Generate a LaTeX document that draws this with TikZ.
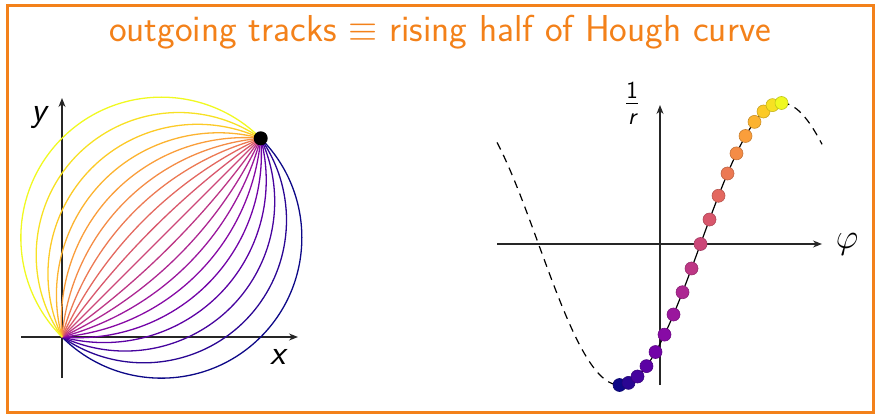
\RequirePackage{fix-cm}
\documentclass[tikz,border=0pt]{standalone}
\usepackage{amsmath}
\usepackage{fontspec}
\usetikzlibrary{arrows.meta}

\definecolor{frameorange}{RGB}{243,129,26}

\tikzset{
  axis/.style={line width=1.2pt, black!85, -{Stealth[length=9pt,width=7pt]}},
  track/.style={line width=1.3pt, trk},
  hough/.style={line width=1.2pt, black},
  guide/.style={dash pattern=on 8pt off 6pt},
  houghdot/.style={circle, fill=trk, draw=trk!80!black, line width=0.6pt, inner sep=0pt, minimum size=13pt},
  lbl/.style={font=\fontsize{35}{42}\selectfont\sffamily\itshape},
}

\begin{document}
\begin{tikzpicture}[x=1pt,y=1pt]
  \def\plasma{13/8/135, 42/6/147, 70/4/158, 92/1/164, 114/3/167, 135/10/165, 154/23/157, 173/39/146, 189/55/133, 204/71/120, 216/87/108, 227/104/95, 236/121/83, 244/140/70, 250/158/59, 252/179/48, 252/202/39, 247/225/35, 240/249/33}

  \useasboundingbox (0,0) rectangle (882,415);
  \draw[frameorange, line width=3pt] (7.5,2.5) rectangle (873.5,409.5);
  \node[anchor=base, text=frameorange, font=\fontsize{37.5}{45}\selectfont\sffamily] (title) at (440,373)
    {outgoing tracks $\equiv$ rising half of Hough curve};

  \begin{scope}[shift={(62,78)}]
    \def\chord{281}
    \coordinate (O) at (0,0);
    \coordinate (P) at (45:\chord);
    \draw[axis] (-41,0) -- (236,0);
    \draw[axis] (0,-41) -- (0,239);
    \foreach \r/\g/\b [count=\i from 0] in \plasma {
      \definecolor{trk}{RGB}{\r,\g,\b}
      \pgfmathsetmacro\turn{180-20*\i}
      \ifnum\i=9
        \draw[track] (O) -- (P);
      \else
        \pgfmathsetmacro\rad{\chord/(2*sin(abs(\turn)/2))}
        \pgfmathsetmacro\start{10*\i-45-90*sign(\turn)}
        \draw[track] (O) arc[start angle=\start, delta angle=\turn, radius=\rad];
      \fi
    }
    \fill (P) circle[radius=7];
    \node[lbl] (xlab) at (216,-20) {x};
    \node[lbl] (ylab) at (-23,219) {y};
  \end{scope}

  \begin{scope}[shift={(660,171)}]
    \def\amp{141}
    \def\half{162}
    \def\phase{40.5}
    \draw[axis] (-163,0) -- (162,0);
    \draw[axis] (0,-141) -- (0,139);
    \draw[hough, guide] plot[domain=-163:-40.5, samples=60] (\x,{\amp*sin((\x-\phase)/\half*180)});
    \draw[hough] plot[domain=-40.5:121.5, samples=80] (\x,{\amp*sin((\x-\phase)/\half*180)});
    \draw[hough, guide] plot[domain=121.5:162, samples=30] (\x,{\amp*sin((\x-\phase)/\half*180)});
    \foreach \r/\g/\b [count=\i from 0] in \plasma {
      \definecolor{trk}{RGB}{\r,\g,\b}
      \node[houghdot] (dot\i) at ({\phase-\half/2+9*\i},{\amp*sin(10*\i-90)}) {};
    }
    \node[lbl] (philab) at (187,0) {$\varphi$};
    \node[lbl] (rlab) at (-28,141) {$\frac{\textsf{\upshape 1}}{\textsf{\itshape r}}$};
  \end{scope}
\end{tikzpicture}
\end{document}
